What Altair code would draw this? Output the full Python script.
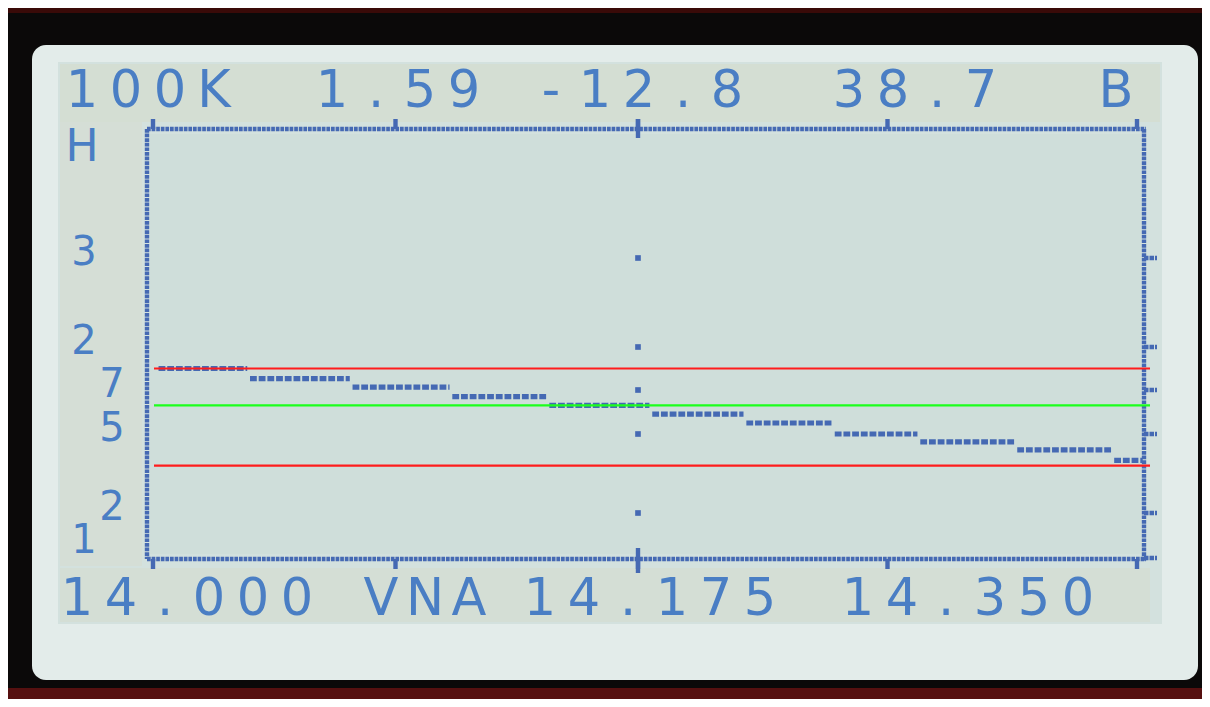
import altair as alt
import pandas as pd

# ---------------- values ----------------
freq_ticks = [14.000, 14.0875, 14.175, 14.2625, 14.350]          # MHz
step_start = [14.002, 14.035, 14.072, 14.108, 14.143, 14.180, 14.213, 14.244, 14.274, 14.308, 14.342]
step_end = [14.034, 14.071, 14.107, 14.142, 14.179, 14.212, 14.243, 14.273, 14.307, 14.341, 14.352]
step_swr = [1.85, 1.78, 1.72, 1.67, 1.63, 1.59, 1.55, 1.50, 1.47, 1.44, 1.40]
swr_ticks = [3, 2, 1.7, 1.5, 1.2, 1]
swr_tick_text = ["3", "2", "7", "5", "2", "1"]
limit_swr = [1.85, 1.63, 1.38]
limit_kind = ["upper", "centre", "lower"]
header_text = ["100K", "1.59", "-12.8", "38.7", "B"]
footer_text = ["14.000", "VNA", "14.175", "14.350"]
corner_text = ["H"]

# ---------------- layout (screen pixels of the photo) ----------------
OX, OY = 8, 8
W, H = 1194, 691


def cx(X):
    return X - OX


def cy(Y):
    return Y - OY


DOT = "#4569b3"
TXT = "#4a7ec4"
CELL = 44.0
FONT = "DejaVu Sans"

x_scale = alt.Scale(domain=[14.0, 14.175, 14.35], range=[cx(153), cx(638), cx(1137)],
                    nice=False, zero=False)
y_scale = alt.Scale(domain=[1, 1.2, 1.5, 1.7, 2, 3],
                    range=[cy(558), cy(513), cy(434), cy(390), cy(347), cy(258)],
                    nice=False, zero=False)

one = alt.Data(values=[{"k": 1}])


def box(X0, Y0, X1, Y1, color, **kw):
    return alt.Chart(one).mark_rect(color=color, **kw).encode(
        x=alt.value(cx(X0)), x2=alt.value(cx(X1)), y=alt.value(cy(Y0)), y2=alt.value(cy(Y1)))


def rule(X0, Y0, X1, Y1, **kw):
    return alt.Chart(one).mark_rule(**kw).encode(
        x=alt.value(cx(X0)), x2=alt.value(cx(X1)), y=alt.value(cy(Y0)), y2=alt.value(cy(Y1)))


def char_rows(texts, starts, base_y):
    rows = []
    for t, s in zip(texts, starts):
        for i, ch in enumerate(t):
            rows.append({"ch": ch, "px": cx(s + i * CELL), "py": cy(base_y)})
    return pd.DataFrame(rows)


# frame of the photo
frame = [
    box(0, 0, 1210, 13, "#3a0a08"),
    box(0, 688, 1210, 707, "#561010"),
    box(32, 45, 1198, 680, "#e3ecea", cornerRadius=14),
    box(58, 62, 1162, 624, "#d3e1de"),
    box(60, 64, 1160, 122, "#d6dccb", opacity=0.6),
    box(60, 122, 142, 566, "#d6dccb", opacity=0.45),
    box(60, 568, 1150, 622, "#d6dccb", opacity=0.5),
    box(150, 134, 1141, 554, "#cfdeda"),
]

dash = dict(color=DOT, strokeWidth=4.4, strokeDash=[3.7, 0.9], strokeCap="butt")
border = [
    rule(147, 129, 1146, 129, **dash),
    rule(147, 129, 147, 559, **dash),
    rule(147, 559, 1146, 559, **dash),
    rule(1144, 129, 1144, 561, **dash),
]

tick_df = pd.DataFrame({"f": freq_ticks})
top_ticks = alt.Chart(tick_df).mark_rule(color=DOT, strokeWidth=4.4).encode(
    x=alt.X("f:Q", scale=x_scale, axis=None), y=alt.value(cy(119)), y2=alt.value(cy(129)))
bot_ticks = alt.Chart(tick_df).mark_rule(color=DOT, strokeWidth=4.4).encode(
    x=alt.X("f:Q", scale=x_scale, axis=None), y=alt.value(cy(559)), y2=alt.value(cy(569)))
centre_df = pd.DataFrame({"f": [freq_ticks[2]]})
centre_ticks = [
    alt.Chart(centre_df).mark_rule(color=DOT, strokeWidth=4.4).encode(
        x=alt.X("f:Q", scale=x_scale, axis=None), y=alt.value(cy(119)), y2=alt.value(cy(138))),
    alt.Chart(centre_df).mark_rule(color=DOT, strokeWidth=4.4).encode(
        x=alt.X("f:Q", scale=x_scale, axis=None), y=alt.value(cy(548)), y2=alt.value(cy(573))),
]

grid_df = pd.DataFrame({"f": [freq_ticks[2]] * (len(swr_ticks) - 1), "swr": swr_ticks[:-1]})
grid_dots = alt.Chart(grid_df).mark_square(size=32, color=DOT, opacity=1).encode(
    x=alt.X("f:Q", scale=x_scale, axis=None), y=alt.Y("swr:Q", scale=y_scale, axis=None))

swr_df = pd.DataFrame({"swr": swr_ticks, "t": swr_tick_text})
swr_df["px"] = [cx(84) if float(v).is_integer() else cx(112) for v in swr_ticks]
right_ticks = alt.Chart(swr_df).mark_rule(color=DOT, strokeWidth=4.5, strokeDash=[4.5, 1]).encode(
    x=alt.value(cx(1144)), x2=alt.value(cx(1157)), y=alt.Y("swr:Q", scale=y_scale, axis=None))
label_enc = dict(x=alt.X("px:Q", scale=None), y=alt.Y("swr:Q", scale=y_scale, axis=None), text="t:N")
label_style = dict(font=FONT, fontSize=40, color=TXT, baseline="alphabetic", align="center")
swr_labels = alt.Chart(swr_df).transform_filter("datum.swr > 1").mark_text(
    dy=7, **label_style).encode(**label_enc)
swr_label_one = alt.Chart(swr_df).transform_filter("datum.swr <= 1").mark_text(
    dy=-5, **label_style).encode(**label_enc)

trace_df = pd.DataFrame({"f0": step_start, "f1": step_end, "swr": step_swr})
trace = alt.Chart(trace_df).mark_rule(color=DOT, strokeWidth=5.2, strokeDash=[6.8, 1.9],
                                      strokeCap="butt").encode(
    x=alt.X("f0:Q", scale=x_scale, axis=None), x2="f1:Q",
    y=alt.Y("swr:Q", scale=y_scale, axis=None))

lim_df = pd.DataFrame({"swr": limit_swr, "kind": limit_kind})
limits = alt.Chart(lim_df).mark_rule(strokeWidth=2.2).encode(
    x=alt.value(cx(154)), x2=alt.value(cx(1150)),
    y=alt.Y("swr:Q", scale=y_scale, axis=None),
    color=alt.Color("kind:N", scale=alt.Scale(domain=["upper", "centre", "lower"],
                                              range=["#ff1c1c", "#1cff1c", "#ff1c1c"]), legend=None))

text_style = dict(font=FONT, fontSize=51, color=TXT, baseline="alphabetic", align="center")
header = alt.Chart(char_rows(header_text, [82, 332, 551, 849, 1116], 107)).mark_text(**text_style).encode(
    x=alt.X("px:Q", scale=None), y=alt.Y("py:Q", scale=None), text="ch:N")
footer = alt.Chart(char_rows(footer_text, [77, 381, 540, 858], 615)).mark_text(**text_style).encode(
    x=alt.X("px:Q", scale=None), y=alt.Y("py:Q", scale=None), text="ch:N")
corner = alt.Chart(char_rows(corner_text, [82], 161)).mark_text(
    font=FONT, fontSize=44, color=TXT, baseline="alphabetic", align="center").encode(
    x=alt.X("px:Q", scale=None), y=alt.Y("py:Q", scale=None), text="ch:N")

layers = frame + border + [top_ticks, bot_ticks] + centre_ticks + [
    grid_dots, right_ticks, swr_labels, swr_label_one, trace, limits, header, footer, corner]

chart = alt.layer(*layers).resolve_scale(x="independent", y="independent").properties(
    width=W, height=H, padding=0, autosize=alt.AutoSizeParams(type="none"),
    background="#0b0909",
).configure_view(stroke=None)

chart.save("out.html", embed_options={"renderer": "svg", "actions": False})
